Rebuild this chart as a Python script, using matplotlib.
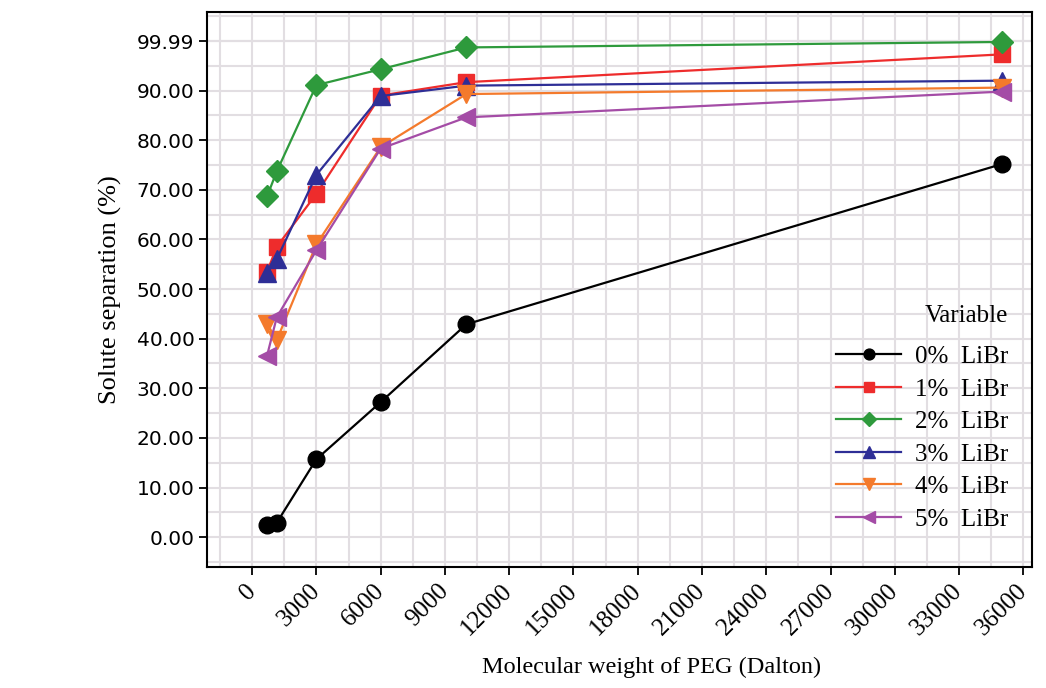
import matplotlib
matplotlib.use("Agg")
import matplotlib.pyplot as plt
from matplotlib.ticker import MultipleLocator, FixedLocator
import numpy as np

# poids moléculaire du PEG (Dalton)
peg = [700, 1150, 3000, 6000, 10000, 35000]

sep_0 = [2.4, 2.9, 15.7, 27.2, 42.9, 75.2]
sep_1 = [53.5, 58.5, 69.2, 89.0, 91.7, 97.3]
sep_2 = [68.7, 73.7, 91.1, 94.3, 98.7, 99.8]
sep_3 = [53.3, 56.0, 73.0, 88.9, 91.0, 92.0]
sep_4 = [43.0, 39.7, 59.0, 78.6, 89.3, 90.6]
sep_5 = [36.6, 44.3, 57.8, 78.3, 84.6, 89.8]

series = [sep_0, sep_1, sep_2, sep_3, sep_4, sep_5]
labels = ["0%  LiBr", "1%  LiBr", "2%  LiBr", "3%  LiBr", "4%  LiBr", "5%  LiBr"]
couleurs = ["#000000", "#ee2c2c", "#2e9a3c", "#2e2e96", "#f47a2c", "#a44ca6"]
marqueurs = ["o", "s", "D", "^", "v", "<"]
tailles = [12, 12, 11, 13.5, 13.5, 13.5]

y_ticks = [0, 10, 20, 30, 40, 50, 60, 70, 80, 90, 99.99]
y_labels = ["0.00", "10.00", "20.00", "30.00", "40.00", "50.00",
            "60.00", "70.00", "80.00", "90.00", "99.99"]
x_ticks = np.arange(0, 36001, 3000)

fig = plt.figure(figsize=(10.46, 6.88), dpi=100)
ax = fig.add_axes([0.198, 0.176, 0.789, 0.807])

for y, lab, c, m, s in zip(series, labels, couleurs, marqueurs, tailles):
    ax.plot(peg, y, color=c, marker=m, markersize=s, linewidth=1.6, label=lab, zorder=3)

ax.set_xlim(-2100, 36420)
ax.set_ylim(-6, 105.9)

ax.xaxis.set_major_locator(FixedLocator(x_ticks))
ax.xaxis.set_minor_locator(MultipleLocator(1500))
ax.yaxis.set_major_locator(FixedLocator(y_ticks))
ax.yaxis.set_minor_locator(FixedLocator(np.arange(-5, 106, 5)))
ax.set_yticklabels(y_labels)
ax.set_xticklabels([str(v) for v in x_ticks], rotation=45, ha="right", va="center",
                   rotation_mode="anchor", family="Liberation Serif", fontsize=18)
ax.tick_params(axis="y", which="major", labelsize=14.5, length=6, width=1.3,
               direction="out", pad=3)
ax.tick_params(axis="x", which="major", length=6, width=1.3, direction="out", pad=9)
ax.tick_params(which="minor", length=0)

ax.grid(True, which="both", color="#e2dee2", linewidth=1.5, zorder=0)
ax.set_axisbelow(True)
for sp in ax.spines.values():
    sp.set_linewidth(1.5)

ax.set_xlabel("Molecular weight of PEG (Dalton)", family="Liberation Serif", fontsize=17.5)
ax.xaxis.set_label_coords(0.539, -0.162)
ax.set_ylabel("Solute separation (%)", family="Liberation Serif", fontsize=19)
ax.yaxis.set_label_coords(-0.103, 0.5)

leg = ax.legend(loc="lower right", bbox_to_anchor=(0.998, 0.025), frameon=False,
                title="Variable", markerscale=0.65, handlelength=2.6,
                handletextpad=0.55, labelspacing=0.40,
                prop={"family": "Liberation Serif", "size": 18})
leg.get_title().set_family("Liberation Serif")
leg.get_title().set_fontsize(18)
leg._legend_box.align = "right"
leg._legend_box.sep = 13

fig.savefig("out.png", dpi=100)
